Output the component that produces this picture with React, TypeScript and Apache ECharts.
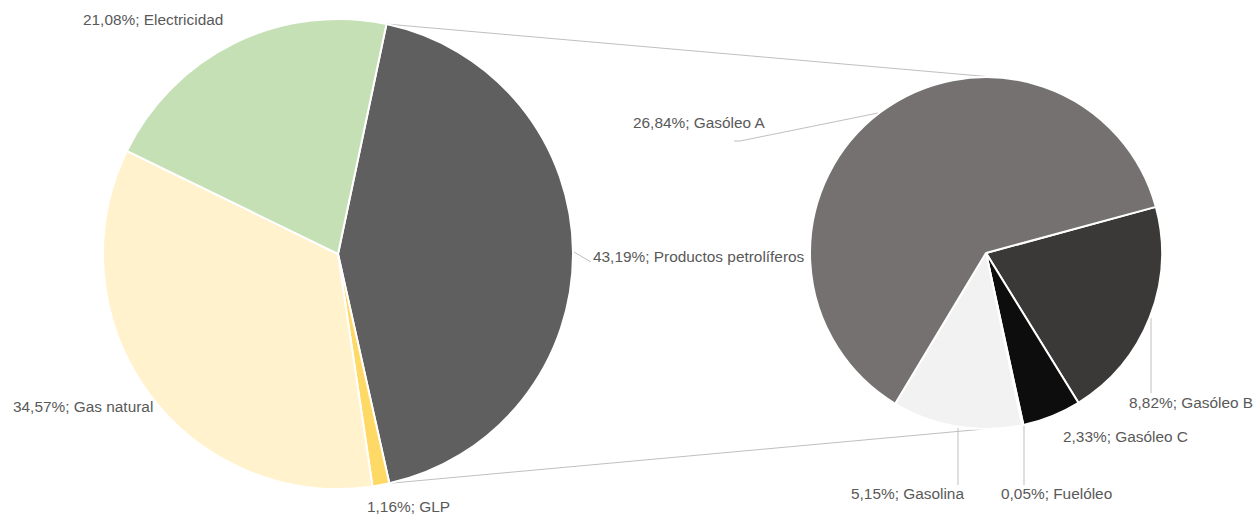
import React, { useEffect, useRef } from "react";
import * as echarts from "echarts";

// ---- data ----
const mainNames = ["Productos petrolíferos", "GLP", "Gas natural", "Electricidad"];
const mainValues = [43.19, 1.16, 34.57, 21.08];
const mainColors = ["#5F5F5F", "#FFD966", "#FFF2CC", "#C5E0B4"];

const subNames = ["Gasóleo B", "Gasóleo C", "Fuelóleo", "Gasolina", "Gasóleo A"];
const subValues = [8.82, 2.33, 0.05, 5.15, 26.84];
const subColors = ["#3B3838", "#0D0D0D", "#A6A6A6", "#F2F2F2", "#767171"];

// ---- layout (pixels) ----
const MAIN_C = [338, 254];
const MAIN_R = 235;
const MAIN_START = 78.1;
const SUB_C = [986, 253];
const SUB_R = 176;
const SUB_START = 15.2;

// label anchor (left x, middle y) and leader line points
const mainLabelPos: { x: number; y: number; line?: number[][] }[] = [
  { x: 593, y: 256, line: [[574, 252], [591, 262]] },
  { x: 367, y: 506 },
  { x: 13, y: 406 },
  { x: 83, y: 19 },
];
const subLabelPos: { x: number; y: number; line?: number[][] }[] = [
  { x: 1129, y: 402, line: [[1151, 318], [1151, 393]] },
  { x: 1063, y: 436 },
  { x: 1001, y: 493, line: [[1024, 425], [1024, 485]] },
  { x: 851, y: 493, line: [[958, 428], [958, 485]] },
  { x: 633, y: 122, line: [[878, 113], [740, 141], [734, 141]] },
];

const fmt = (v: number) => v.toFixed(2).replace(".", ",") + "%";

function pt(c: number[], r: number, deg: number) {
  const a = (deg * Math.PI) / 180;
  return [c[0] + r * Math.cos(a), c[1] - r * Math.sin(a)];
}

export default function App() {
  const ref = useRef<HTMLDivElement>(null);
  useEffect(() => {
    if (!ref.current) return;
    const chart = echarts.init(ref.current, null, { renderer: "svg" });
    const mainTotal = mainValues.reduce((a, b) => a + b, 0);
    const petroAngle = (mainValues[0] / mainTotal) * 360;
    const p1 = pt(MAIN_C, MAIN_R, MAIN_START);
    const p2 = pt(MAIN_C, MAIN_R, MAIN_START - petroAngle);
    const q1 = pt(SUB_C, SUB_R, 87.5);
    const q2 = pt(SUB_C, SUB_R, -90.5);

    const labelStyle = {
      fontFamily: "'Liberation Sans', Arial, sans-serif",
      fontSize: 15.4,
      color: "#595959",
    };

    const mkData = (names: string[], values: number[], colors: string[], pos: any[]) =>
      names.map((n, i) => ({
        name: n,
        value: values[i],
        itemStyle: { color: colors[i] },
        labelLine: { show: !!pos[i].line },
      }));

    const mkLayout = (pos: any[]) => (params: any) => {
      const p = pos[params.dataIndex];
      const o: any = { x: p.x, y: p.y, align: "left", verticalAlign: "middle" };
      if (p.line) o.labelLinePoints = p.line;
      return o;
    };

    const common = {
      type: "pie",
      clockwise: true,
      avoidLabelOverlap: false,
      emphasis: { disabled: true },
      itemStyle: { borderColor: "#FFFFFF", borderWidth: 2 },
      label: {
        show: true,
        position: "outside",
        formatter: (p: any) => fmt(p.value) + "; " + p.name,
        ...labelStyle,
      },
      labelLine: { show: true, length: 10, length2: 10, lineStyle: { color: "#BFBFBF", width: 1 } },
    };

    chart.setOption({
      animation: false,
      backgroundColor: "#FFFFFF",
      graphic: [
        {
          type: "line",
          shape: { x1: p1[0], y1: p1[1], x2: q1[0], y2: q1[1] },
          style: { stroke: "#BFBFBF", lineWidth: 1 },
          z: 0,
        },
        {
          type: "line",
          shape: { x1: p2[0], y1: p2[1], x2: q2[0], y2: q2[1] },
          style: { stroke: "#BFBFBF", lineWidth: 1 },
          z: 0,
        },
      ],
      series: [
        {
          ...common,
          name: "Consumo",
          center: MAIN_C,
          radius: MAIN_R,
          startAngle: MAIN_START,
          data: mkData(mainNames, mainValues, mainColors, mainLabelPos),
          labelLayout: mkLayout(mainLabelPos),
        },
        {
          ...common,
          name: "Productos petrolíferos",
          center: SUB_C,
          radius: SUB_R,
          startAngle: SUB_START,
          data: mkData(subNames, subValues, subColors, subLabelPos),
          labelLayout: mkLayout(subLabelPos),
        },
      ],
    });
    return () => chart.dispose();
  }, []);
  return (
    <div
      ref={ref}
      style={{ position: "fixed", left: 0, top: 0, width: 1255, height: 514, background: "#fff" }}
    />
  );
}
